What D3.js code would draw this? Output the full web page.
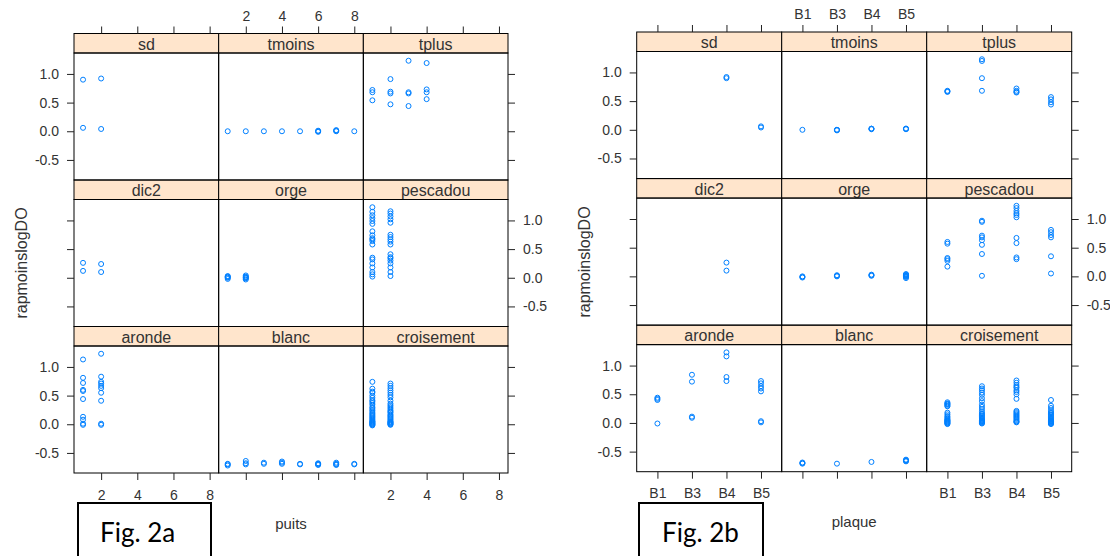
<!DOCTYPE html>
<html>
<head>
<meta charset="utf-8">
<script src="https://cdn.jsdelivr.net/npm/d3@7"></script>
<style>
body { margin: 0; background: #fff; }
svg { display: block; }
</style>
</head>
<body>
<svg id="chart" width="1110" height="556"></svg>
<script>
// panel order as lattice lays them out (bottom-left first)
const panels = ["aronde", "blanc", "croisement", "dic2", "orge", "pescadou", "sd", "tmoins", "tplus"];
const yTicks = [-0.5, 0, 0.5, 1.0];
const yDomain = [-0.85, 1.365];
const puits = [1, 2, 3, 4, 5, 6, 7, 8];
const puitsTicks = [2, 4, 6, 8];
const plaques = ["B1", "B3", "B4", "B5"];

// Fig 2a : rapmoinslogDO per puits (one inner array per puits 1..8)
const a_sd = [[0.90, 0.06], [0.92, 0.04]];
const a_tmoins = [[0.0], [0.0], [0.0], [0.0], [0.0], [0.0, -0.01, 0.01], [0.0, 0.01, 0.02], [0.0]];
const a_tplus = [[0.72, 0.68, 0.54], [0.91, 0.69, 0.66, 0.47], [1.23, 0.68, 0.66, 0.44], [1.19, 0.73, 0.68, 0.56]];
const a_dic2 = [[0.26, 0.12], [0.24, 0.10]];
const a_orge = [[-0.02, 0.0, 0.01, 0.02, 0.03], [-0.03, -0.01, 0.0, 0.01, 0.02, 0.04]];
const a_pescadou = [
  [1.23, 1.15, 1.09, 1.04, 0.99, 0.94, 0.81, 0.74, 0.69, 0.67, 0.64, 0.58, 0.35, 0.32, 0.25, 0.18, 0.10, 0.06, 0.02],
  [1.16, 1.12, 1.07, 1.02, 0.96, 0.75, 0.71, 0.67, 0.63, 0.58, 0.41, 0.36, 0.34, 0.30, 0.25, 0.18, 0.10, 0.03]
];
const a_aronde = [
  [1.13, 0.81, 0.72, 0.60, 0.58, 0.44, 0.13, 0.08, 0.01, -0.01],
  [1.23, 0.83, 0.74, 0.71, 0.67, 0.63, 0.55, 0.41, 0.01, -0.01]
];
const a_blanc = [
  [-0.69, -0.72, -0.70], [-0.64, -0.68, -0.70], [-0.67, -0.69], [-0.65, -0.67, -0.69],
  [-0.69, -0.70], [-0.68, -0.69, -0.70, -0.71], [-0.67, -0.69, -0.70, -0.71], [-0.69, -0.70]
];
const a_croisement = [
  [0.74, 0.62, 0.57, 0.55, 0.50, 0.46, 0.42, 0.40, 0.37, 0.34, 0.30, 0.28, 0.25, 0.23, 0.20, 0.18, 0.16, 0.14,
   0.12, 0.10, 0.08, 0.06, 0.05, 0.04, 0.03, 0.02, 0.01, 0.0, -0.01, -0.02],
  [0.71, 0.67, 0.63, 0.59, 0.55, 0.51, 0.47, 0.41, 0.36, 0.33, 0.30, 0.27, 0.24, 0.22, 0.20, 0.17, 0.15, 0.13,
   0.11, 0.09, 0.07, 0.05, 0.04, 0.03, 0.02, 0.01, 0.0, -0.01]
];

// Fig 2b : rapmoinslogDO per plaque (B1, B3, B4, B5)
const b_sd = [[], [], [0.90, 0.92], [0.06, 0.04]];
const b_tmoins = [[0.0], [0.0, -0.01, 0.0], [0.01, 0.02, 0.02], [0.01, 0.02, 0.02]];
const b_tplus = [[0.67, 0.68, 0.66], [1.23, 1.20, 0.90, 0.68], [0.72, 0.68, 0.65, 0.66], [0.57, 0.53, 0.48, 0.44]];
const b_dic2 = [[], [], [0.24, 0.10], []];
const b_orge = [[-0.01, 0.0, -0.02], [0.01, 0.0, 0.02], [0.02, 0.01, 0.03], [-0.03, -0.01, 0.0, 0.01, 0.03, 0.04, 0.02]];
const b_pescadou = [
  [0.60, 0.57, 0.32, 0.30, 0.27, 0.17],
  [0.97, 0.95, 0.71, 0.68, 0.63, 0.55, 0.39, 0.01],
  [1.23, 1.19, 1.14, 1.10, 1.07, 1.03, 0.67, 0.58, 0.33, 0.30],
  [0.81, 0.77, 0.72, 0.68, 0.35, 0.05]
];
const b_aronde = [[0.44, 0.42, 0.40, -0.01], [0.84, 0.72, 0.11, 0.09], [1.23, 1.16, 0.80, 0.73], [0.73, 0.69, 0.64, 0.60, 0.55, 0.03, 0.01]];
const b_blanc = [[-0.70, -0.71, -0.69], [-0.71], [-0.68], [-0.66, -0.65, -0.67, -0.64]];
const b_croisement = [
  [0.36, 0.34, 0.33, 0.32, 0.30, 0.29, 0.18, 0.15, 0.12, 0.10, 0.08, 0.06, 0.05, 0.04, 0.03, 0.02, 0.01, 0.0, -0.01, -0.02],
  [0.64, 0.60, 0.57, 0.53, 0.49, 0.43, 0.38, 0.32, 0.28, 0.24, 0.20, 0.17, 0.15, 0.13, 0.11, 0.09, 0.07, 0.05, 0.04,
   0.03, 0.02, 0.01, 0.0, -0.01],
  [0.74, 0.70, 0.66, 0.63, 0.61, 0.57, 0.54, 0.50, 0.42, 0.21, 0.19, 0.17, 0.15, 0.13, 0.11, 0.09, 0.07, 0.05, 0.03, 0.02, 0.01],
  [0.40, 0.30, 0.26, 0.22, 0.19, 0.17, 0.15, 0.13, 0.11, 0.09, 0.07, 0.05, 0.04, 0.03, 0.02, 0.01, 0.0, -0.01, -0.02]
];

const figA = {
  sd: a_sd, tmoins: a_tmoins, tplus: a_tplus, dic2: a_dic2, orge: a_orge,
  pescadou: a_pescadou, aronde: a_aronde, blanc: a_blanc, croisement: a_croisement
};
const figB = {
  sd: b_sd, tmoins: b_tmoins, tplus: b_tplus, dic2: b_dic2, orge: b_orge,
  pescadou: b_pescadou, aronde: b_aronde, blanc: b_blanc, croisement: b_croisement
};

const svg = d3.select("#chart");
const font = "Liberation Sans";
const textCol = "#333";
const lineCol = "#222";
const ptCol = "#0080ff";

function styleAxis(sel) {
  sel.attr("font-family", font).attr("font-size", 14);
  sel.select(".domain").remove();
  sel.selectAll(".tick line").attr("stroke", lineCol);
  sel.selectAll(".tick text").attr("fill", textCol);
}

function drawFig(cfg) {
  const g = svg.append("g").attr("font-family", font);
  const cw = cfg.width / 3, rh = cfg.height / 3, sh = 19.5;
  const x = cfg.x.copy().range([0, cw]);
  const y = d3.scaleLinear().domain(yDomain).range([rh - sh, 0]);
  const yFmt = d => d.toFixed(1);

  panels.forEach((name, i) => {
    const c = i % 3, r = 2 - Math.floor(i / 3);
    const pg = g.append("g").attr("transform", `translate(${cfg.left + c * cw},${cfg.top + r * rh})`);

    // strip
    pg.append("rect").attr("width", cw).attr("height", sh)
      .attr("fill", "#ffe5cc").attr("stroke", "#000").attr("stroke-width", 1);
    pg.append("text").attr("x", cw / 2).attr("y", sh - 3.5)
      .attr("text-anchor", "middle").attr("fill", textCol)
      .attr("font-size", 16).text(name);

    const body = pg.append("g").attr("transform", `translate(0,${sh})`);
    body.append("rect").attr("width", cw).attr("height", rh - sh)
      .attr("fill", "none").attr("stroke", "#000").attr("stroke-width", 1);

    // points
    cfg.data[name].forEach((vals, k) => {
      body.selectAll(null).data(vals).enter().append("circle")
        .attr("cx", x(cfg.levels[k]))
        .attr("cy", d => y(d))
        .attr("r", 2.5)
        .attr("fill", "none")
        .attr("stroke", ptCol)
        .attr("stroke-width", 1);
    });

    // axes on the outer sides, labels alternating like lattice
    if (r === 0) {
      pg.append("g")
        .call(d3.axisTop(x).tickValues(cfg.ticks).tickSize(7).tickPadding(6)
          .tickFormat(c === 1 ? cfg.fmt : ""))
        .call(styleAxis);
    }
    if (r === 2) {
      body.append("g").attr("transform", `translate(0,${rh - sh})`)
        .call(d3.axisBottom(x).tickValues(cfg.ticks).tickSize(7).tickPadding(cfg.bottomPad)
          .tickFormat(c !== 1 ? cfg.fmt : ""))
        .call(styleAxis);
    }
    if (c === 0) {
      body.append("g")
        .call(d3.axisLeft(y).tickValues(yTicks).tickSize(7).tickPadding(8)
          .tickFormat(r !== 1 ? yFmt : ""))
        .call(styleAxis);
    }
    if (c === 2) {
      body.append("g").attr("transform", `translate(${cw},0)`)
        .call(d3.axisRight(y).tickValues(yTicks).tickSize(7).tickPadding(8)
          .tickFormat(r === 1 ? yFmt : ""))
        .call(styleAxis);
    }
  });

  // axis titles
  g.append("text")
    .attr("x", cfg.left + cfg.width / 2).attr("y", cfg.xlabY)
    .attr("text-anchor", "middle").attr("fill", textCol)
    .attr("font-size", 15).text(cfg.xlab);
  g.append("text")
    .attr("transform", `translate(${cfg.ylabX},${cfg.ylabY}) rotate(-90)`)
    .attr("text-anchor", "middle").attr("fill", textCol)
    .attr("font-size", 16).text("rapmoinslogDO");

  // figure caption box
  g.append("rect")
    .attr("x", cfg.box[0]).attr("y", 503).attr("width", cfg.box[1]).attr("height", 80)
    .attr("fill", "#fff").attr("stroke", "#000").attr("stroke-width", 2);
  g.append("text")
    .attr("x", cfg.box[2]).attr("y", 542)
    .attr("fill", "#000")
    .attr("font-family", "Lato, 'Open Sans', sans-serif").attr("font-size", 26)
    .text(cfg.caption);
}

drawFig({
  left: 74, top: 33.5, width: 434, height: 439.5,
  x: d3.scaleLinear().domain([0.5, 8.5]),
  levels: puits, ticks: puitsTicks, fmt: d => d,
  bottomPad: 10, data: figA,
  xlab: "puits", xlabY: 529, ylabX: 27, ylabY: 263,
  box: [78, 133, 100], caption: "Fig. 2a"
});

drawFig({
  left: 636.7, top: 32, width: 435, height: 439.7,
  x: d3.scalePoint().domain(plaques).padding(0.6),
  levels: plaques, ticks: plaques, fmt: d => d,
  bottomPad: 9.5, data: figB,
  xlab: "plaque", xlabY: 527, ylabX: 590, ylabY: 262,
  box: [639, 124, 662], caption: "Fig. 2b"
});
</script>
</body>
</html>
